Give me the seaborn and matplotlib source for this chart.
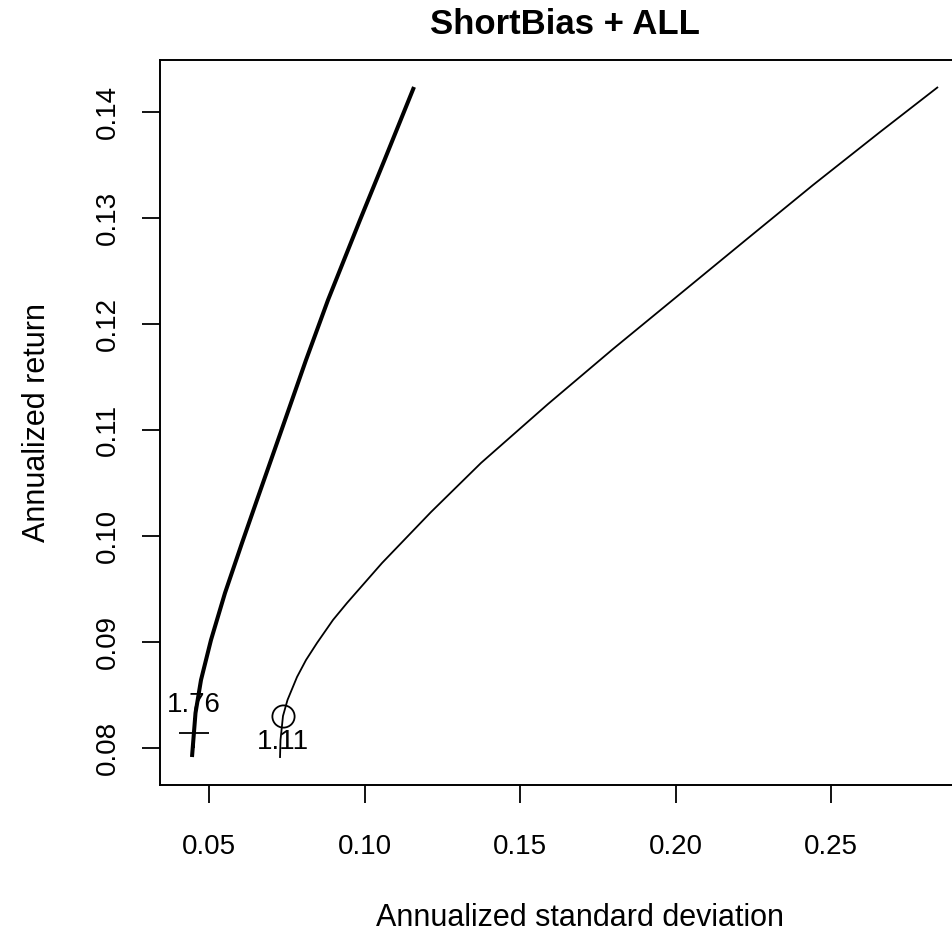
import matplotlib
matplotlib.use("Agg")
import matplotlib.pyplot as plt
import pandas as pd
import seaborn as sns

# Efficient frontier, thick curve
thick_sd = [0.04453, 0.04566, 0.04743, 0.05064, 0.05514, 0.06061, 0.06543,
            0.07299, 0.08119, 0.08826, 0.09341, 0.09855, 0.10643, 0.11592]
thick_ret = [0.07915, 0.08330, 0.08642, 0.09019, 0.09462, 0.09934, 0.10340,
             0.10972, 0.11660, 0.12226, 0.12604, 0.12981, 0.13547, 0.14236]

# Efficient frontier, thin curve
thin_sd = [0.07283, 0.07299, 0.07379, 0.07524, 0.07830, 0.08119, 0.08473,
           0.08987, 0.09437, 0.10563, 0.12138, 0.13746, 0.15900, 0.17990,
           0.20145, 0.22299, 0.24421, 0.26576, 0.28441]
thin_ret = [0.07906, 0.08075, 0.08302, 0.08453, 0.08670, 0.08830, 0.08991,
            0.09208, 0.09368, 0.09745, 0.10226, 0.10689, 0.11245, 0.11764,
            0.12283, 0.12802, 0.13311, 0.13811, 0.14236]

# Tangency points and their Sharpe ratio labels
point_sd = [0.04518, 0.07379]
point_ret = [0.08142, 0.08302]
point_label = ["1.76", "1.11"]

x_ticks = [0.05, 0.10, 0.15, 0.20, 0.25]
y_ticks = [0.08, 0.09, 0.10, 0.11, 0.12, 0.13, 0.14]

sns.set_style("white")
plt.rcParams["font.family"] = ["Liberation Sans", "DejaVu Sans"]
plt.rcParams["text.color"] = "black"
plt.rcParams["axes.labelcolor"] = "black"
plt.rcParams["xtick.color"] = "black"
plt.rcParams["ytick.color"] = "black"

fig = plt.figure(figsize=(9.52, 9.35), dpi=100)
ax = fig.add_axes([160 / 952, 1 - 785 / 935, (1000 - 160) / 952, 725 / 935])

thick_df = pd.DataFrame({"sd": thick_sd, "ret": thick_ret})
thin_df = pd.DataFrame({"sd": thin_sd, "ret": thin_ret})
sns.lineplot(data=thick_df, x="sd", y="ret", sort=False, estimator=None,
             color="black", linewidth=2.9, ax=ax,
             solid_joinstyle="round", solid_capstyle="butt")
sns.lineplot(data=thin_df, x="sd", y="ret", sort=False, estimator=None,
             color="black", linewidth=1.3, ax=ax,
             solid_joinstyle="round", solid_capstyle="butt")

ax.plot(point_sd[0], point_ret[0], marker="+", color="black",
        markersize=22, markeredgewidth=1.3, linestyle="none")
ax.plot(point_sd[1], point_ret[1], marker="o", markerfacecolor="none",
        markeredgecolor="black", markersize=16, markeredgewidth=1.3,
        linestyle="none")
ax.annotate(point_label[0], (point_sd[0], point_ret[0]), xytext=(0, 20),
            textcoords="offset points", ha="center", va="center", fontsize=20)
ax.annotate(point_label[1], (point_sd[1], point_ret[1]), xytext=(0, -19),
            textcoords="offset points", ha="center", va="center", fontsize=20)

x0 = 0.05 - (209 - 160) / 3110
x1 = 0.05 + (1000 - 209) / 3110
ax.set_xlim(x0, x1)
ax.set_ylim(0.08 - 37 / 10600, 0.14 + 52 / 10600)

ax.set_xticks(x_ticks)
ax.set_xticklabels([f"{v:.2f}" for v in x_ticks])
ax.set_yticks(y_ticks)
ax.set_yticklabels([f"{v:.2f}" for v in y_ticks], rotation=90, va="center")
ax.tick_params(axis="both", direction="out", length=13, width=1.3,
               color="black", labelsize=20, left=True, bottom=True)
ax.tick_params(axis="x", pad=22)
ax.tick_params(axis="y", pad=15)

for side in ["left", "top", "bottom", "right"]:
    ax.spines[side].set_color("black")
    ax.spines[side].set_linewidth(1.4)

ax.set_xlabel("Annualized standard deviation", fontsize=22, labelpad=31)
ax.set_ylabel("Annualized return", fontsize=22, labelpad=31)
fig.text(565 / 952, 1 - 25 / 935, "ShortBias + ALL", ha="center", va="center",
         fontsize=25, fontweight="bold")

fig.savefig("out.png", dpi=100)
